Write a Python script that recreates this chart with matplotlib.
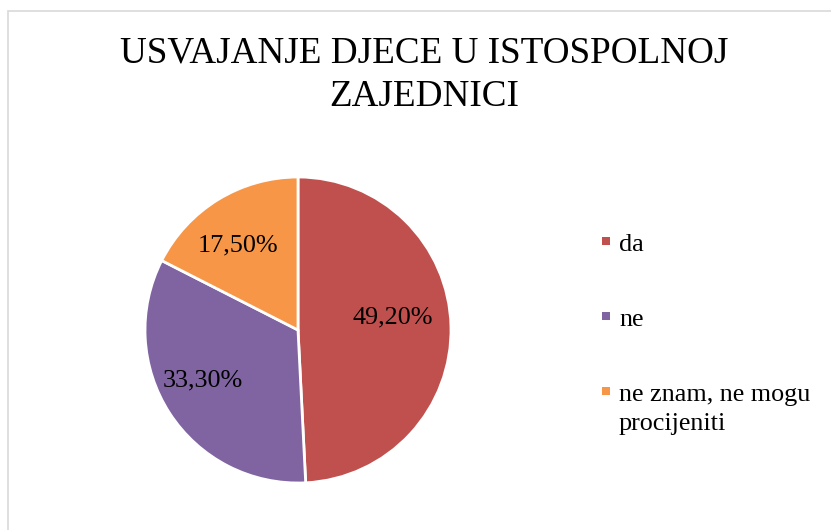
import matplotlib
matplotlib.use("Agg")
import matplotlib.pyplot as plt
from matplotlib.patches import Rectangle

categories = ["da", "ne", "ne znam, ne mogu\nprocijeniti"]
values = [49.2, 33.3, 17.5]
colors = ["#C0504D", "#8064A2", "#F79646"]
title = "USVAJANJE DJECE U ISTOSPOLNOJ\nZAJEDNICI"

plt.rcParams['font.family'] = ['Liberation Serif', 'DejaVu Serif']

W, H = 831, 530
fig = plt.figure(figsize=(W / 100, H / 100), dpi=100)
fig.patch.set_facecolor("white")

# outer border
fig.patches.append(Rectangle((8 / W, -0.01), 1.05, (H - 11) / H + 0.01, transform=fig.transFigure,
                             fill=False, edgecolor="#D9D9D9", linewidth=1.2))

fig.text(424 / W, 1 - 75 / H, title, ha="center", va="center", fontsize=26.7,
         color="#000000", linespacing=1.31)

cx, cy, r = 298, 330, 153
ax = fig.add_axes([(cx - r) / W, 1 - (cy + r) / H, 2 * r / W, 2 * r / H])
wedges, texts, autotexts = ax.pie(values, colors=colors, startangle=90, counterclock=False,
                                  autopct=lambda p: f"{p:.2f}%".replace(".", ","),
                                  pctdistance=0.65, radius=1,
                                  wedgeprops=dict(edgecolor="white", linewidth=2),
                                  textprops=dict(fontsize=18.8, color="#000000"))
label_pos = [(0.62, 0.08), (-0.62, -0.33), (-0.39, 0.55)]
for t, (x, y) in zip(autotexts, label_pos):
    t.set_position((x, y))
    t.set_ha("center")
    t.set_va("center")
ax.set_xlim(-1, 1)
ax.set_ylim(-1, 1)
ax.set_aspect("equal")
ax.axis("off")

# legend (baselines in pixels from top)
leg_base = [251, 326, 401]
line_gap = 29
for cat, col, yb in zip(categories, colors, leg_base):
    ys = yb - 10
    fig.patches.append(Rectangle((602 / W, 1 - (ys + 4) / H), 8 / W, 8 / H,
                                 transform=fig.transFigure, facecolor=col, edgecolor="none"))
    for i, line in enumerate(cat.split("\n")):
        fig.text(619 / W, 1 - (yb + i * line_gap) / H, line, ha="left", va="baseline",
                 fontsize=18.8, color="#000000")

fig.savefig("out.png", dpi=100)
